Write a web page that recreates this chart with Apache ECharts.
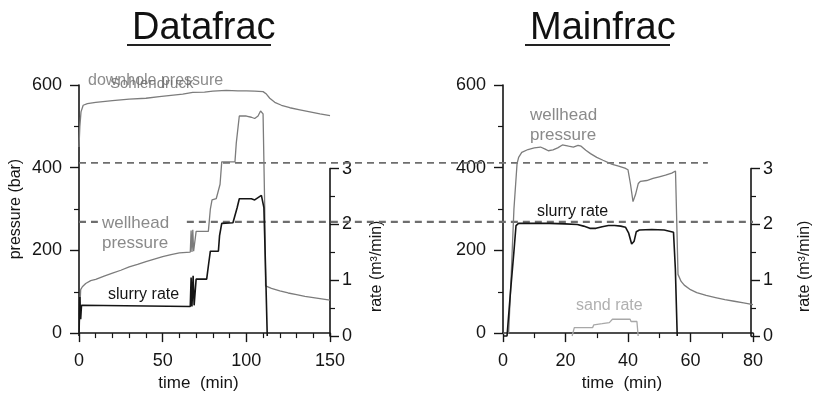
<!DOCTYPE html>
<html>
<head>
<meta charset="utf-8">
<script src="https://cdn.jsdelivr.net/npm/echarts@6/dist/echarts.min.js"></script>
<style>
  html, body { margin: 0; padding: 0; background: #fff; }
  #chart { width: 814px; height: 397px; }
</style>
</head>
<body>
<div id="chart"></div>
<script>
// time in min, pressure in bar, rate in m3/min
var dfDownhole = [
  [0, 450], [0.5, 500], [1.2, 535], [2.5, 551], [5, 555], [10, 558], [20, 562], [30, 566],
  [40, 568], [48, 572], [55, 575], [62, 578], [68, 582], [75, 583], [80, 585], [88, 587],
  [95, 586], [100, 586], [105, 585], [110, 584], [112, 578], [114, 568], [117, 558],
  [121, 551], [126, 545], [132, 540], [138, 535], [144, 530], [150, 526]
];
var dfWellhead = [
  [0, 0], [0.5, 60], [1, 105], [2, 112], [4, 120], [7, 127], [10, 130], [15, 138], [20, 145],
  [25, 152], [30, 160], [35, 166], [40, 173], [45, 179], [50, 185], [55, 190], [60, 194],
  [66.5, 196], [67, 248], [67.5, 196], [68, 250], [68.5, 198], [70, 246], [77.3, 246],
  [78.5, 300], [79.5, 322], [82, 325], [83, 340], [84.3, 360], [85.3, 414], [93.2, 414],
  [94, 460], [95.8, 525], [100, 525], [103, 522], [105, 519], [107, 525], [108.5, 537],
  [110, 530], [111, 300], [111.5, 114], [115, 108], [120, 102], [125, 97], [130, 93],
  [135, 89], [140, 86], [145, 83], [150, 80]
];
var dfSlurry = [
  [0, 0], [0.5, 0.7], [1, 0.3], [1.5, 0.55], [2.5, 0.53], [66.5, 0.53], [67, 1.05],
  [67.5, 0.53], [68.2, 1.08], [68.8, 0.55], [70, 1.02], [76.3, 1.02], [77.5, 1.3],
  [78.5, 1.52], [83.3, 1.52], [84, 1.8], [85.3, 2.02], [92, 2.03], [93, 2.06], [94.5, 2.3],
  [95.8, 2.46], [103, 2.46], [105, 2.44], [107, 2.48], [109, 2.52], [110, 2.55],
  [110.5, 2.3], [111.5, 1.2], [112.5, 0]
];

var mfWellhead = [
  [0, 0], [1.8, 0], [2.4, 100], [3.5, 300], [4.5, 410], [5, 425], [6, 437], [8, 444],
  [10, 448], [12, 450], [13.5, 445], [14.5, 441], [16, 443], [17.5, 448], [19, 455],
  [21, 452], [22.5, 450], [24, 454], [25, 452], [26.5, 442], [28, 434], [30, 425],
  [32, 418], [33.5, 413], [35, 408], [37, 404], [39, 399], [40, 395], [40.8, 360],
  [41.6, 318], [42.4, 335], [43.3, 362], [44, 367], [46, 369], [48, 374], [50, 378],
  [52, 382], [54, 387], [55.2, 392], [55.5, 300], [56, 142], [57, 125], [58, 116],
  [60, 105], [62, 98], [65, 91], [68, 86], [71, 81], [74, 77], [77, 73], [80, 69]
];
var mfSlurry = [
  [0, 0], [1.3, 0], [2.5, 0.85], [3.5, 1.5], [4.2, 1.98], [5, 2.02], [10, 2.02], [15, 2.02],
  [20, 2.01], [24, 2.0], [26, 1.97], [28, 1.93], [30, 1.93], [32, 1.96], [34, 1.98],
  [36, 1.98], [38, 1.97], [39.5, 1.95], [40.5, 1.85], [41.5, 1.65], [42.3, 1.7], [43, 1.87],
  [44, 1.9], [48, 1.91], [52, 1.9], [55, 1.86], [55.6, 1.2], [56.2, 0]
];
var mfSand = [
  [22.3, 0], [23, 0.15], [28.9, 0.15], [29.3, 0.2], [32, 0.22], [34.3, 0.24], [35.3, 0.3],
  [41, 0.3], [41.3, 0.26], [43.2, 0.26], [43.6, 0]
];

// reference lines drawn across both panels (x in % of the span)
var refUpperPressure = 414;
var refUpperSpan = [0, 93.3];
var refLowerPressure = 273;
var refLowerSpans = [[0, 2.8], [16, 100]];

var pressureTicks = [0, 200, 400, 600];
var rateTicks = [0, 1, 2, 3];
var dfTimeTicks = [0, 50, 100, 150];
var mfTimeTicks = [0, 20, 40, 60, 80];

var FONT = 'Liberation Sans, Arial, sans-serif';
var GRAY = '#7c7c7c';
var BLACK = '#151515';

var chart = echarts.init(document.getElementById('chart'));

function ticksAxis(ticks) {
  return { min: ticks[0], max: ticks[ticks.length - 1], interval: ticks[1] - ticks[0] };
}

var axisLine = { show: true, onZero: false, lineStyle: { color: BLACK, width: 1.6 } };
var axisTick = { show: true, length: 9, lineStyle: { color: BLACK, width: 1.4 } };
var minorTick = { show: true, length: 5, lineStyle: { color: BLACK, width: 1.2 } };
var labelStyle = { color: BLACK, fontSize: 18, fontFamily: FONT };

function timeAxis(grid, ticks, minorSplit) {
  var t = ticksAxis(ticks);
  return Object.assign({
    type: 'value', gridIndex: grid,
    name: 'time  (min)', nameLocation: 'middle', nameGap: 40,
    nameTextStyle: { color: BLACK, fontSize: 17, fontFamily: FONT, padding: [0, 12, 0, 0] },
    axisLine: axisLine, axisTick: axisTick,
    minorTick: Object.assign({ splitNumber: minorSplit }, minorTick),
    axisLabel: Object.assign({ margin: 19 }, labelStyle),
    splitLine: { show: false }
  }, t);
}
function hiddenX(grid, ticks) {
  return Object.assign({ type: 'value', gridIndex: grid, show: false }, ticksAxis(ticks));
}
function pressureAxis(grid, withName) {
  return Object.assign({
    type: 'value', gridIndex: grid, position: 'left',
    name: withName ? 'pressure (bar)' : '', nameLocation: 'middle', nameGap: 55,
    nameTextStyle: { color: BLACK, fontSize: 16, fontFamily: FONT },
    axisLine: axisLine, axisTick: axisTick,
    minorTick: Object.assign({ splitNumber: 2 }, minorTick),
    axisLabel: Object.assign({ margin: 17 }, labelStyle),
    splitLine: { show: false }
  }, ticksAxis(pressureTicks));
}
function rateAxis(grid, gap) {
  return Object.assign({
    type: 'value', gridIndex: grid, position: 'right',
    name: 'rate (m\u00b3/min)', nameLocation: 'middle', nameGap: gap,
    nameTextStyle: { color: BLACK, fontSize: 16, fontFamily: FONT, padding: [0, 28, 0, 0] },
    axisLine: axisLine, axisTick: axisTick,
    minorTick: Object.assign({ splitNumber: 2 }, minorTick),
    axisLabel: Object.assign({ margin: 12 }, labelStyle),
    splitLine: { show: false }
  }, ticksAxis(rateTicks));
}

function line(data, x, y, color, width, z) {
  return {
    type: 'line', xAxisIndex: x, yAxisIndex: y, data: data, symbol: 'none',
    lineStyle: { color: color, width: width }, z: z || 2, clip: false
  };
}
function refLine(p, span, width) {
  return {
    type: 'line', xAxisIndex: 4, yAxisIndex: 4, symbol: 'none', z: 1,
    data: [[span[0], p], [span[1], p]],
    lineStyle: { color: '#6e6e6e', width: width, type: [7, 5] }
  };
}

// 400 bar on the pressure axis is where 3 m3/min sits on the rate axis
var plotTop = 85, plotBottom = 61, plotH = 251;
var rateTop = plotTop + plotH * (1 - 400 / 600);

var series = [
  line(dfDownhole, 0, 0, GRAY, 1.3),
  line(dfWellhead, 0, 0, GRAY, 1.3),
  line(dfSlurry, 1, 1, BLACK, 1.6, 3),
  line(mfWellhead, 2, 2, GRAY, 1.3),
  line(mfSlurry, 3, 3, BLACK, 1.6, 3),
  line(mfSand, 3, 3, '#a8a8a8', 1.3),
  refLine(refUpperPressure, refUpperSpan, 1.8)
];
refLowerSpans.forEach(function (s) { series.push(refLine(refLowerPressure, s, 2.2)); });

function txt(s, x, y, size, color) {
  return { type: 'text', x: x, y: y, z: 10,
    style: { text: s, fill: color, font: size + 'px ' + FONT, textVerticalAlign: 'middle' } };
}
function underline(x1, x2, y) {
  return { type: 'line', z: 10, shape: { x1: x1, y1: y, x2: x2, y2: y },
    style: { stroke: '#222', lineWidth: 2 } };
}

var option = {
  animation: false,
  backgroundColor: '#fff',
  title: [
    { text: 'Datafrac', left: 127, top: 5, textStyle: { fontSize: 38, fontWeight: 'normal', color: '#111', fontFamily: FONT } },
    { text: 'Mainfrac', left: 525, top: 5, textStyle: { fontSize: 38, fontWeight: 'normal', color: '#111', fontFamily: FONT } }
  ],
  grid: [
    { left: 79, width: 251, top: plotTop, bottom: plotBottom },
    { left: 79, width: 251, top: rateTop, bottom: plotBottom },
    { left: 503, width: 250, top: plotTop, bottom: plotBottom },
    { left: 503, width: 250, top: rateTop, bottom: plotBottom },
    { left: 79, right: 61, top: plotTop, bottom: plotBottom }
  ],
  xAxis: [
    timeAxis(0, dfTimeTicks, 5),
    hiddenX(1, dfTimeTicks),
    timeAxis(2, mfTimeTicks, 2),
    hiddenX(3, mfTimeTicks),
    { type: 'value', gridIndex: 4, show: false, min: 0, max: 100 }
  ],
  yAxis: [
    pressureAxis(0, true),
    rateAxis(1, 39),
    pressureAxis(2, false),
    rateAxis(3, 46),
    { type: 'value', gridIndex: 4, show: false, min: 0, max: 600 }
  ],
  series: series,
  graphic: [
    underline(127, 271, 45),
    underline(525, 670, 45),
    txt('downhole pressure', 88, 81, 16, '#8c8c8c'),
    txt('Sohlendruck', 110, 84, 15, 'rgba(110,110,110,0.85)'),
    txt('wellhead', 102, 223, 17, '#8a8a8a'),
    txt('pressure', 102, 243, 17, '#8a8a8a'),
    txt('slurry rate', 108, 295, 16, BLACK),
    txt('wellhead', 530, 115, 17, '#8a8a8a'),
    txt('pressure', 530, 135, 17, '#8a8a8a'),
    txt('slurry rate', 537, 212, 16, BLACK),
    txt('sand rate', 576, 306, 16, '#b0b0b0')
  ]
};

chart.setOption(option);
</script>
</body>
</html>
